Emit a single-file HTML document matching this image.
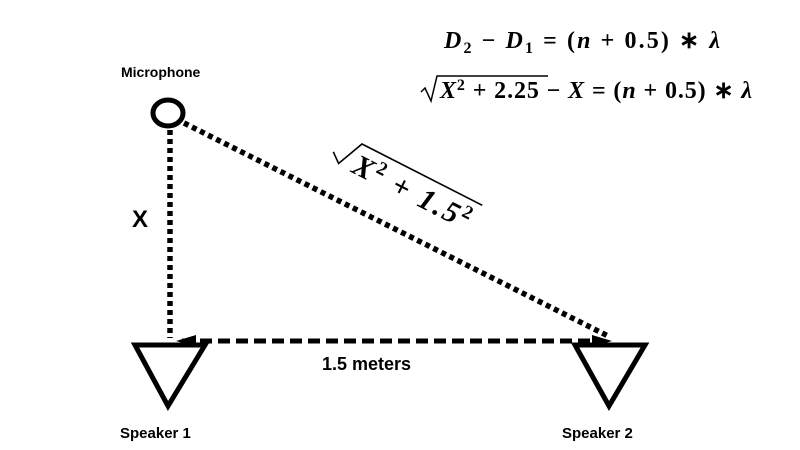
<!DOCTYPE html>
<html><head><meta charset="utf-8"><style>
html,body{margin:0;padding:0;background:#fff;width:800px;height:450px;overflow:hidden}
</style></head><body>
<svg width="800" height="450" viewBox="0 0 800 450" xmlns="http://www.w3.org/2000/svg">
<ellipse cx="168" cy="113" rx="15" ry="13" fill="none" stroke="#000" stroke-width="5"/>
<text x="121" y="77" font-family="Liberation Sans, sans-serif" font-weight="bold" font-size="14">Microphone</text>
<line x1="170" y1="130" x2="170" y2="338" stroke="#000" stroke-width="5.5" stroke-dasharray="5,4"/>
<text x="132" y="227" font-family="Liberation Sans, sans-serif" font-weight="bold" font-size="24">X</text>
<line x1="184" y1="123" x2="610" y2="337" stroke="#000" stroke-width="5.5" stroke-dasharray="5,4"/>
<line x1="182" y1="341" x2="604" y2="341" stroke="#000" stroke-width="5" stroke-dasharray="12,6"/>
<path d="M176,341 L196,335 L196,347 z" fill="#000"/>
<path d="M612,341 L592,335 L592,347 z" fill="#000"/>
<text x="322" y="370" font-family="Liberation Sans, sans-serif" font-weight="bold" font-size="18">1.5 meters</text>
<path d="M135,345 L205,345 L168,406 z" fill="none" stroke="#000" stroke-width="5" stroke-linejoin="miter"/>
<path d="M575,345 L645,345 L609,406 z" fill="none" stroke="#000" stroke-width="5" stroke-linejoin="miter"/>
<text x="120" y="438" font-family="Liberation Sans, sans-serif" font-weight="bold" font-size="15">Speaker 1</text>
<text x="562" y="438" font-family="Liberation Sans, sans-serif" font-weight="bold" font-size="15">Speaker 2</text>
<g transform="translate(362,144) rotate(27)">
<path d="M-22,20 L-12,28 L0,0 L135,0" fill="none" stroke="#000" stroke-width="1.6"/>
<text x="2" y="30" font-family="Liberation Serif, serif" font-weight="bold" font-size="30" textLength="128" lengthAdjust="spacing"><tspan font-style="italic">X</tspan><tspan font-size="19" dy="-11">2</tspan><tspan dy="11"> + </tspan><tspan font-style="italic">1.5</tspan><tspan font-size="19" dy="-11">2</tspan></text>
</g>
<text x="444" y="48" font-family="Liberation Serif, serif" font-weight="bold" font-size="24" textLength="276" lengthAdjust="spacing"><tspan font-style="italic">D</tspan><tspan font-size="16" dy="5">2</tspan><tspan dy="-5"> − </tspan><tspan font-style="italic">D</tspan><tspan font-size="16" dy="5">1</tspan><tspan dy="-5"> = (</tspan><tspan font-style="italic">n</tspan><tspan> + 0.5) ∗ </tspan><tspan font-style="italic">λ</tspan></text>
<path d="M421,92 L425,88 L431,101 L437,76 L548,76" fill="none" stroke="#000" stroke-width="1.5"/>
<text x="440" y="98" font-family="Liberation Serif, serif" font-weight="bold" font-size="24" textLength="312" lengthAdjust="spacing"><tspan font-style="italic">X</tspan><tspan font-size="16" dy="-8">2</tspan><tspan dy="8"> + 2.25 − </tspan><tspan font-style="italic">X</tspan><tspan> = (</tspan><tspan font-style="italic">n</tspan><tspan> + 0.5) ∗ </tspan><tspan font-style="italic">λ</tspan></text>
</svg>
</body></html>
